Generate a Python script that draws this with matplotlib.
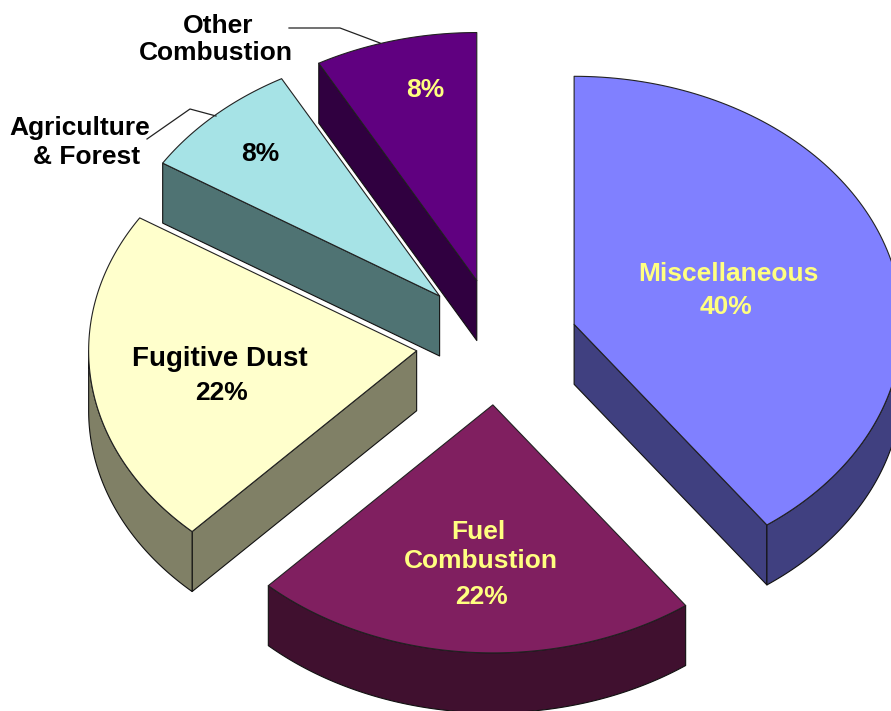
import matplotlib
matplotlib.use('Agg')
import matplotlib.pyplot as plt
import numpy as np
from matplotlib.patches import Polygon

categories = ['Miscellaneous', 'Fuel Combustion', 'Fugitive Dust', 'Agriculture & Forest', 'Other Combustion']
values = [40, 22, 22, 8, 8]
explode = [0.244, 0.25, 0.25, 0.26, 0.26]
pct_labels = ['40%', '22%', '22%', '8%', '8%']
top_colors = ['#8080FF', '#801F60', '#FFFFCC', '#A6E3E6', '#600080']
side_colors = ['#404080', '#40102F', '#808066', '#4F7373', '#300040']

# projected pie: pixel units of the figure
CX, CY = 498, 343
RX, RY = 328, 248
DEPTH = 60

plt.rcParams['font.family'] = ['Liberation Sans', 'DejaVu Sans']
plt.rcParams['font.weight'] = 'bold'

fig = plt.figure(figsize=(8.91, 7.11), dpi=100)
ax = fig.add_axes([0, 0, 1, 1])
ax.set_xlim(0, 891)
ax.set_ylim(711, 0)
ax.axis('off')


def ellipse_pts(x0, y0, a1, a2):
    t = np.radians(np.linspace(a1, a2, 120))
    return np.column_stack([x0 + RX * np.sin(t), y0 - RY * np.cos(t)])


def draw_slice(i, a1, a2):
    mid = np.radians((a1 + a2) / 2)
    x0 = CX + explode[i] * RX * np.sin(mid)
    y0 = CY - explode[i] * RY * np.cos(mid)
    down = np.array([0, DEPTH])
    kw = dict(facecolor=side_colors[i], edgecolor='#111111', linewidth=0.8, joinstyle='round')
    apex = np.array([x0, y0])

    # radial walls, only those facing the viewer
    walls = []
    if 180 < a1 < 360:
        walls.append(a1)
    if 0 < a2 < 180:
        walls.append(a2)
    for a in walls:
        p = ellipse_pts(x0, y0, a, a)[0]
        ax.add_patch(Polygon([apex, p, p + down, apex + down], closed=True, **kw))

    # outer rim, only the front half shows
    r1, r2 = max(a1, 90), min(a2, 270)
    if r1 < r2:
        arc = ellipse_pts(x0, y0, r1, r2)
        ax.add_patch(Polygon(np.vstack([arc, (arc + down)[::-1]]), closed=True, **kw))

    # top face
    arc = ellipse_pts(x0, y0, a1, a2)
    ax.add_patch(Polygon(np.vstack([apex, arc]), closed=True, facecolor=top_colors[i],
                         edgecolor='#222222', linewidth=0.8, joinstyle='round'))


# start and end angles, clockwise from 12 o'clock
ends = np.cumsum(values) * 360 / sum(values)
starts = ends - np.array(values) * 360 / sum(values)

# back slices first so the nearer ones cover them
for i in [4, 3, 2, 0, 1]:
    draw_slice(i, starts[i], ends[i])

# leader lines
ax.plot([289, 340, 380], [28, 28, 43], color='#222222', lw=0.9)
ax.plot([147, 190, 216], [139, 109, 116], color='#222222', lw=0.9)

YELLOW = '#FFFF80'
FS = 19
ax.text(728, 274, 'Miscellaneous', color=YELLOW, fontsize=FS, ha='center', va='center')
ax.text(726, 307, pct_labels[0], color=YELLOW, fontsize=FS, ha='center', va='center')
ax.text(478, 532, 'Fuel', color=YELLOW, fontsize=FS, ha='center', va='center')
ax.text(481, 561, 'Combustion', color=YELLOW, fontsize=FS, ha='center', va='center')
ax.text(481, 597, pct_labels[1], color=YELLOW, fontsize=FS, ha='center', va='center')
ax.text(220, 359, 'Fugitive Dust', color='black', fontsize=20, ha='center', va='center')
ax.text(222, 393, pct_labels[2], color='black', fontsize=FS, ha='center', va='center')
ax.text(260, 154, pct_labels[3], color='black', fontsize=FS, ha='center', va='center')
ax.text(425, 90, pct_labels[4], color=YELLOW, fontsize=FS, ha='center', va='center')
ax.text(80, 128, 'Agriculture', color='black', fontsize=FS, ha='center', va='center')
ax.text(87, 157, '& Forest', color='black', fontsize=FS, ha='center', va='center')
ax.text(218, 26, 'Other', color='black', fontsize=FS, ha='center', va='center')
ax.text(216, 53, 'Combustion', color='black', fontsize=FS, ha='center', va='center')

fig.savefig('out.png', dpi=100, facecolor='white')
